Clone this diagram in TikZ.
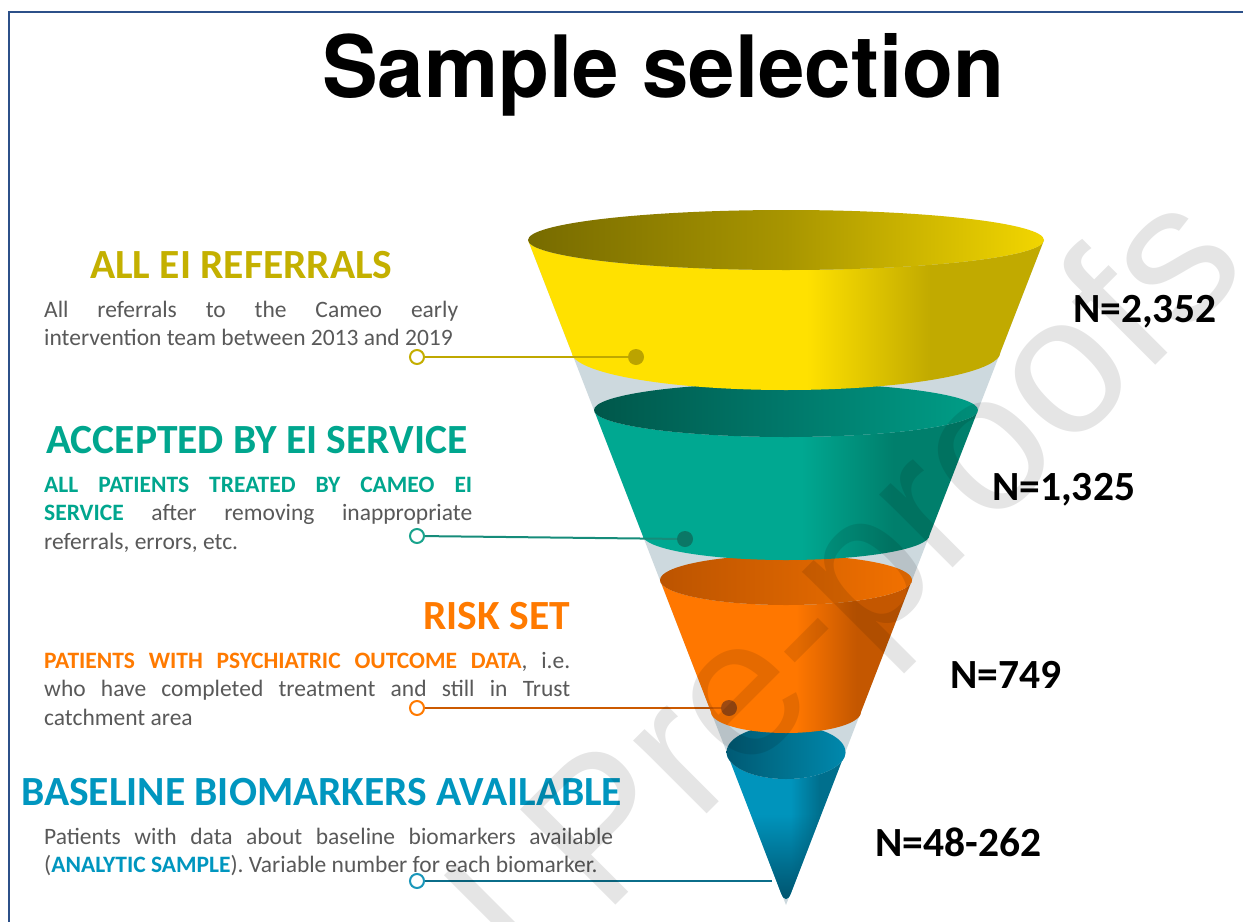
\documentclass[tikz,border=0pt]{standalone}
\usepackage{fontspec}
\usepackage{graphicx}
\setmainfont{Carlito}
\newfontfamily\titlefont{TeX Gyre Heros}
\newfontfamily\wmfont{Liberation Sans}
\usetikzlibrary{fadings}

\definecolor{borderblue}{HTML}{2C5089}
\definecolor{txtgray}{HTML}{595959}
\definecolor{olivetxt}{HTML}{C4B000}
\definecolor{tealtxt}{HTML}{00A68E}
\definecolor{orangetxt}{HTML}{FF7A00}
\definecolor{bluetxt}{HTML}{0096BF}
\definecolor{conegray}{HTML}{CDD9DE}
% funnel colours
\definecolor{yb1}{HTML}{FFE100}\definecolor{yb2}{HTML}{C1AA00}
\definecolor{yt1}{HTML}{776B00}\definecolor{yt2}{HTML}{A89500}\definecolor{yt3}{HTML}{F2D600}
\definecolor{tb1}{HTML}{00A891}\definecolor{tb2}{HTML}{007F6C}
\definecolor{tt1}{HTML}{00574A}\definecolor{tt2}{HTML}{00786A}\definecolor{tt3}{HTML}{009E87}
\definecolor{ob1}{HTML}{FF7700}\definecolor{ob2}{HTML}{C45700}
\definecolor{ot1}{HTML}{BC5400}\definecolor{ot2}{HTML}{D66200}\definecolor{ot3}{HTML}{F27100}
\definecolor{bb1}{HTML}{0094BC}\definecolor{bb2}{HTML}{006F8D}\definecolor{bb3}{HTML}{00506A}
\definecolor{bt1}{HTML}{005A74}\definecolor{bt2}{HTML}{00728F}\definecolor{bt3}{HTML}{0088AD}
% connector colours
\definecolor{yline}{HTML}{BFA800}\definecolor{ydot}{HTML}{BBA300}\definecolor{ycirc}{HTML}{C4AE00}
\definecolor{tline}{HTML}{168C7A}\definecolor{tdot}{HTML}{0B7766}\definecolor{tcirc}{HTML}{19A38C}
\definecolor{oline}{HTML}{CC5A00}\definecolor{odot}{HTML}{9D4A12}\definecolor{ocirc}{HTML}{FF7A00}
\definecolor{bline}{HTML}{0B6E8A}\definecolor{bcirc}{HTML}{1A97BA}

\pgfdeclarehorizontalshading{ybody}{100bp}{color(0bp)=(yb1); color(25bp)=(yb1); color(52bp)=(yb1); color(64bp)=(yb2); color(75bp)=(yb2); color(100bp)=(yb2)}
\pgfdeclarehorizontalshading{ytop}{100bp}{color(0bp)=(yt1); color(25bp)=(yt1); color(50bp)=(yt2); color(75bp)=(yt3); color(100bp)=(yt3)}
\pgfdeclarehorizontalshading{tbody}{100bp}{color(0bp)=(tb1); color(25bp)=(tb1); color(52bp)=(tb1); color(64bp)=(tb2); color(75bp)=(tb2); color(100bp)=(tb2)}
\pgfdeclarehorizontalshading{ttop}{100bp}{color(0bp)=(tt1); color(25bp)=(tt1); color(50bp)=(tt2); color(75bp)=(tt3); color(100bp)=(tt3)}
\pgfdeclarehorizontalshading{obody}{100bp}{color(0bp)=(ob1); color(25bp)=(ob1); color(52bp)=(ob1); color(64bp)=(ob2); color(75bp)=(ob2); color(100bp)=(ob2)}
\pgfdeclarehorizontalshading{otop}{100bp}{color(0bp)=(ot1); color(25bp)=(ot1); color(50bp)=(ot2); color(75bp)=(ot3); color(100bp)=(ot3)}
\pgfdeclarehorizontalshading{bbody}{100bp}{color(0bp)=(bb1); color(25bp)=(bb1); color(52bp)=(bb1); color(64bp)=(bb2); color(75bp)=(bb2); color(100bp)=(bb2)}
\pgfdeclarehorizontalshading{btop}{100bp}{color(0bp)=(bt1); color(25bp)=(bt1); color(50bp)=(bt2); color(75bp)=(bt3); color(100bp)=(bt3)}

% funnel segment: top y, top rx, top ry, bottom y, bottom rx, bottom ry, body shading, top shading
\newcommand\fseg[8]{%
  \shade[shading=#7] (786-#2,-#1) -- (786-#5,-#4)
    arc[start angle=180,end angle=360,x radius=#5,y radius=#6]
    -- (786+#2,-#1) arc[start angle=0,end angle=-180,x radius=#2,y radius=#3] -- cycle;
  \shade[shading=#8] (786,-#1) ellipse[x radius=#2,y radius=#3];
}
\newcommand\bodyfont{\fontsize{23.5bp}{28.5bp}\selectfont}
\newcommand\parsetup{\tolerance=10000\hbadness=10000\hyphenpenalty=10000\leavevmode}

\tikzset{
  hd/.style={inner sep=0pt, font=\fontsize{41.5bp}{45bp}\selectfont\bfseries},
  nlab/.style={inner sep=0pt, anchor=base west, text=black, font=\fontsize{41.5bp}{45bp}\selectfont\bfseries},
  para/.style={inner sep=0pt, anchor=base west, text=txtgray, font=\bodyfont},
  opencirc/.style={circle, fill=white, line width=2bp, minimum size=14bp, inner sep=0pt},
  segdot/.style={circle, minimum size=16bp, inner sep=0pt},
  conn/.style={line width=2bp}
}

\begin{document}
\begin{tikzpicture}[x=1bp,y=1bp]
\useasboundingbox (0,0) rectangle (1243,-922);
\fill[white] (0,0) rectangle (1243,-922);
\clip (0,0) rectangle (1243,-922);

% frame
\draw[borderblue, line width=2.5bp] (9,-930) -- (9,-12) -- (1250,-12);

% title
\node[anchor=base west, inner sep=0pt] (title) at (322,-97)
  {\resizebox{682bp}{64bp}{\titlefont\bfseries Sample selection}};

% funnel backdrop
\fill[conegray] (528,-240) -- (786,-905) -- (1044,-240) -- cycle;

% blue segment (tip)
\shade[shading=bbody] (726.6,-752) -- (781,-893) .. controls (784,-901) and (788,-901) .. (791,-893)
  -- (845.4,-752) arc[start angle=0,end angle=-180,x radius=59.4,y radius=27] -- cycle;
\begin{scope}
  \clip (726.6,-752) -- (781,-893) .. controls (784,-901) and (788,-901) .. (791,-893) -- (845.4,-752) -- cycle;
  \fill[bb3, path fading=north] (720,-815) rectangle (852,-905);
\end{scope}
\shade[shading=btop] (786,-752) ellipse[x radius=59.4,y radius=27];

% orange, teal, yellow segments
\fseg{580}{126}{25}{712}{75}{21}{obody}{otop}
\fseg{410}{192}{27}{535}{143.5}{25}{tbody}{ttop}
\fseg{240}{258}{30}{352}{214.5}{38}{ybody}{ytop}

% connectors
\node[opencirc, draw=ycirc] (c1) at (417,-357) {};
\node[segdot, fill=ydot] (d1) at (636,-357) {};
\draw[conn, yline] (c1) -- (d1);
\node[opencirc, draw=tcirc] (c2) at (417,-536) {};
\node[segdot, fill=tdot] (d2) at (685,-539) {};
\draw[conn, tline] (c2) -- (d2);
\node[opencirc, draw=ocirc] (c3) at (417,-708) {};
\node[segdot, fill=odot] (d3) at (729,-708) {};
\draw[conn, oline] (c3) -- (d3);
\node[opencirc, draw=bcirc] (c4) at (417,-881) {};
\coordinate (e4) at (772,-881);
\draw[conn, bline] (c4) -- (e4);

% headings
\node[hd, text=olivetxt, anchor=base west] (h1) at (90,-278) {ALL EI REFERRALS};
\node[hd, text=tealtxt, anchor=base west] (h2) at (46,-453) {ACCEPTED BY EI SERVICE};
\node[hd, text=orangetxt, anchor=base east] (h3) at (570,-629) {RISK SET};
\node[hd, text=bluetxt, anchor=base west] (h4) at (21,-805) {BASELINE BIOMARKERS AVAILABLE};

% paragraphs
\node[para] (p1) at (44,-317) {\parbox[t]{414bp}{\parsetup
  All referrals to the Cameo early\linebreak intervention team between 2013 and 2019}};
\node[para] (p2) at (44,-492) {\parbox[t]{428bp}{\parsetup
  {\bfseries\color{tealtxt}ALL PATIENTS TREATED BY CAMEO EI\linebreak SERVICE} after removing inappropriate\linebreak referrals, errors, etc.}};
\node[para] (p3) at (44,-668) {\parbox[t]{526bp}{\parsetup
  {\bfseries\color{orangetxt}PATIENTS WITH PSYCHIATRIC OUTCOME DATA}, i.e.\linebreak who have completed treatment and still in Trust\linebreak catchment area}};
\node[para] (p4) at (44,-844) {\parbox[t]{569bp}{\parsetup
  Patients with data about baseline biomarkers available\linebreak ({\bfseries\color{bluetxt}ANALYTIC SAMPLE}). Variable number for each biomarker.}};

% N labels
\node[nlab] (n1) at (1073,-322) {N=2,352};
\node[nlab] (n2) at (992,-500) {N=1,325};
\node[nlab] (n3) at (950,-688) {N=749};
\node[nlab] (n4) at (875,-856) {N=48-262};

% watermark
\node[anchor=base east, inner sep=0pt, rotate=45, text=black, text opacity=0.1,
  font=\wmfont\fontsize{196bp}{196bp}\selectfont] (wm) at (1252,-269) {Journal Pre-proofs};
\end{tikzpicture}
\end{document}
